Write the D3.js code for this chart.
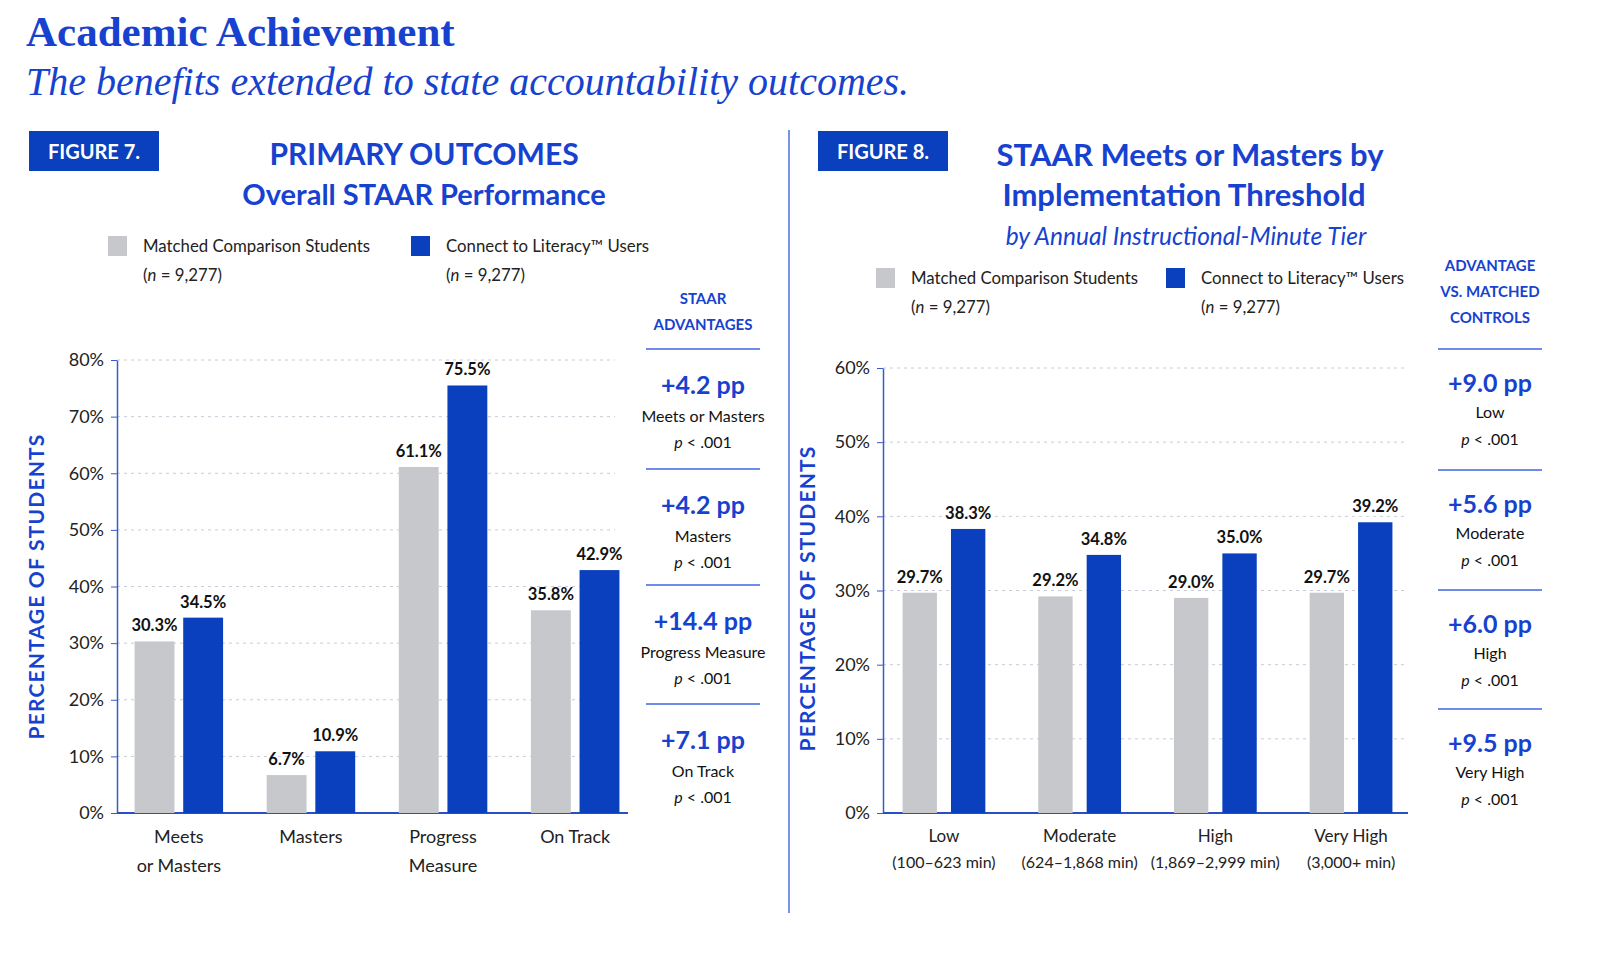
<!DOCTYPE html>
<html>
<head>
<meta charset="utf-8">
<script src="https://cdn.jsdelivr.net/npm/d3@7"></script>
<style>
  body { margin: 0; background: #fff; }
  svg { display: block; }
  text { font-family: Lato, "Open Sans", sans-serif; }
</style>
</head>
<body>
<svg id="chart" width="1608" height="978"></svg>
<script>
// Figure 7 data
var fig7Categories = [["Meets", "or Masters"], ["Masters"], ["Progress", "Measure"], ["On Track"]];
var fig7Comparison = [30.3, 6.7, 61.1, 35.8];
var fig7Users = [34.5, 10.9, 75.5, 42.9];
var fig7Ticks = [0, 10, 20, 30, 40, 50, 60, 70, 80];
var fig7Advantages = ["+4.2 pp", "+4.2 pp", "+14.4 pp", "+7.1 pp"];
var fig7AdvLabels = ["Meets or Masters", "Masters", "Progress Measure", "On Track"];

// Figure 8 data
var fig8Categories = [["Low", "(100–623 min)"], ["Moderate", "(624–1,868 min)"], ["High", "(1,869–2,999 min)"], ["Very High", "(3,000+ min)"]];
var fig8Comparison = [29.7, 29.2, 29.0, 29.7];
var fig8Users = [38.3, 34.8, 35.0, 39.2];
var fig8Ticks = [0, 10, 20, 30, 40, 50, 60];
var fig8Advantages = ["+9.0 pp", "+5.6 pp", "+6.0 pp", "+9.5 pp"];
var fig8AdvLabels = ["Low", "Moderate", "High", "Very High"];

var legendNames = ["Matched Comparison Students", "Connect to Literacy™ Users"];

var BLUE = "#0a40bd";
var TITLE_BLUE = "#1742cf";
var GRAY = "#c6c8cc";

var svg = d3.select("#chart");

// page heading
svg.append("text")
  .attr("x", 26).attr("y", 46)
  .style("font-family", "'Liberation Serif', 'DejaVu Serif', serif")
  .style("font-weight", "bold").style("font-size", "43px")
  .attr("fill", TITLE_BLUE)
  .text("Academic Achievement");
svg.append("text")
  .attr("x", 26).attr("y", 95)
  .style("font-family", "'Liberation Serif', 'DejaVu Serif', serif")
  .style("font-style", "italic").style("font-size", "40px")
  .attr("fill", TITLE_BLUE)
  .text("The benefits extended to state accountability outcomes.");

// vertical divider
svg.append("line")
  .attr("x1", 789).attr("x2", 789).attr("y1", 130).attr("y2", 913)
  .attr("stroke", "#4a6fe0").attr("stroke-width", 1.5);

function badge(x, label) {
  svg.append("rect").attr("x", x).attr("y", 131).attr("width", 130).attr("height", 40)
    .attr("fill", BLUE);
  svg.append("text").attr("x", x + 65).attr("y", 159).attr("text-anchor", "middle")
    .attr("fill", "#fff").style("font-weight", "bold").style("font-size", "20px")
    .text(label);
}

function legend(x0, x1, y) {
  [x0, x1].forEach(function(x, i) {
    svg.append("rect").attr("x", x).attr("y", y).attr("width", 19).attr("height", 20)
      .attr("fill", i == 0 ? GRAY : BLUE);
    svg.append("text").attr("x", x + 35).attr("y", y + 16)
      .style("font-size", "16.8px").attr("fill", "#222").text(legendNames[i]);
    var t = svg.append("text").attr("x", x + 35).attr("y", y + 45)
      .style("font-size", "16.8px").attr("fill", "#222");
    t.append("tspan").text("(");
    t.append("tspan").style("font-style", "italic").text("n");
    t.append("tspan").text(" = 9,277)");
  });
}

// offs = vertical offsets below each rule for the pp value, label and p-value
function sidePanel(cx, x1, x2, header, headerY, lineYs, adv, labels, offs) {
  header.forEach(function(h, i) {
    svg.append("text").attr("x", cx).attr("y", headerY + i * 26).attr("text-anchor", "middle")
      .attr("fill", TITLE_BLUE).style("font-weight", "bold").style("font-size", "15px")
      .text(h);
  });
  lineYs.forEach(function(ly, i) {
    svg.append("line").attr("x1", x1).attr("x2", x2).attr("y1", ly).attr("y2", ly)
      .attr("stroke", "#3d66dc").attr("stroke-width", 1.5);
    svg.append("text").attr("x", cx).attr("y", ly + offs[0]).attr("text-anchor", "middle")
      .attr("fill", TITLE_BLUE).style("font-weight", "bold").style("font-size", "25px")
      .text(adv[i]);
    svg.append("text").attr("x", cx).attr("y", ly + offs[1]).attr("text-anchor", "middle")
      .attr("fill", "#111").style("font-size", "16px").text(labels[i]);
    var p = svg.append("text").attr("x", cx).attr("y", ly + offs[2]).attr("text-anchor", "middle")
      .attr("fill", "#111").style("font-size", "16px");
    p.append("tspan").style("font-style", "italic").text("p");
    p.append("tspan").text(" < .001");
  });
}

function barChart(opt) {
  var y = d3.scaleLinear().domain([0, opt.max]).range([opt.bottom, opt.top]);
  var x = d3.scaleBand().domain(d3.range(opt.cats.length))
    .range([opt.bandLeft, opt.bandRight]).paddingInner(opt.padInner).paddingOuter(opt.padOuter);
  var x1 = d3.scaleBand().domain([0, 1]).range([0, x.bandwidth()]).paddingInner(opt.gap);

  var g = svg.append("g");

  // gridlines
  g.selectAll(".grid").data(opt.ticks.filter(function(d) { return d > 0; })).enter()
    .append("line")
    .attr("x1", opt.left).attr("x2", opt.gridEnd)
    .attr("y1", function(d) { return y(d); }).attr("y2", function(d) { return y(d); })
    .attr("stroke", "#c9ccd8").attr("stroke-dasharray", "3,4");

  // y axis
  var yAxis = g.append("g").attr("transform", "translate(" + opt.left + ",0)")
    .call(d3.axisLeft(y).tickValues(opt.ticks).tickFormat(function(d) { return d + "%"; })
      .tickSize(6).tickSizeOuter(0));
  yAxis.select(".domain").attr("stroke", "#3a5bc7").attr("stroke-width", 1.5);
  yAxis.selectAll(".tick line").attr("stroke", "#3a5bc7");
  yAxis.selectAll(".tick text").attr("x", -13).attr("fill", "#222")
    .style("font-size", "18px").style("font-family", "Lato, sans-serif");

  // baseline
  g.append("line").attr("x1", opt.left).attr("x2", opt.axisEnd)
    .attr("y1", opt.bottom).attr("y2", opt.bottom)
    .attr("stroke", "#2a4fc4").attr("stroke-width", 2);

  var series = [opt.comp, opt.users];
  series.forEach(function(vals, s) {
    g.selectAll(".bar" + s).data(vals).enter().append("rect")
      .attr("x", function(d, i) { return x(i) + x1(s); })
      .attr("width", x1.bandwidth())
      .attr("y", function(d) { return y(d); })
      .attr("height", function(d) { return opt.bottom - y(d); })
      .attr("fill", s == 0 ? GRAY : BLUE);
    g.selectAll(".lbl" + s).data(vals).enter().append("text")
      .attr("x", function(d, i) { return x(i) + x1(s) + x1.bandwidth() / 2; })
      .attr("y", function(d) { return y(d) - 10; })
      .attr("text-anchor", "middle").attr("fill", "#111")
      .style("font-weight", "bold").style("font-size", "16.5px")
      .text(function(d) { return d.toFixed(1) + "%"; });
  });

  // category labels
  opt.cats.forEach(function(lines, i) {
    lines.forEach(function(l, j) {
      g.append("text").attr("x", x(i) + x.bandwidth() / 2)
        .attr("y", opt.bottom + opt.catY + j * opt.catGap)
        .attr("text-anchor", "middle").attr("fill", "#222")
        .style("font-size", j == 0 ? opt.catSize + "px" : opt.catSize2 + "px")
        .text(l);
    });
  });

  // y title
  g.append("text")
    .attr("transform", "translate(" + opt.titleX + "," + ((opt.top + opt.bottom) / 2 + opt.titleShift) + ") rotate(-90)")
    .attr("text-anchor", "middle").attr("fill", TITLE_BLUE)
    .style("font-weight", "bold").style("font-size", "21px").style("letter-spacing", "1.2px")
    .text("PERCENTAGE OF STUDENTS");
}

// ---------- Figure 7 ----------
badge(29, "FIGURE 7.");
svg.append("text").attr("x", 424).attr("y", 165).attr("text-anchor", "middle")
  .attr("fill", TITLE_BLUE).style("font-weight", "bold").style("font-size", "30px")
  .text("PRIMARY OUTCOMES");
svg.append("text").attr("x", 424).attr("y", 205).attr("text-anchor", "middle")
  .attr("fill", TITLE_BLUE).style("font-weight", "bold").style("font-size", "29px")
  .text("Overall STAAR Performance");
legend(108, 411, 236);

barChart({
  cats: fig7Categories, comp: fig7Comparison, users: fig7Users, ticks: fig7Ticks, max: 80,
  left: 117, top: 360, bottom: 813, gridEnd: 615, axisEnd: 628,
  bandLeft: 124, bandRight: 630, padInner: 0.33, padOuter: 0.08, gap: 0.18,
  catY: 30, catGap: 29, catSize: 18, catSize2: 18, titleX: 44, titleShift: 0
});

sidePanel(703, 646, 760, ["STAAR", "ADVANTAGES"], 304, [349, 469, 585, 704],
  fig7Advantages, fig7AdvLabels, [45, 73, 99]);

// ---------- Figure 8 ----------
badge(818, "FIGURE 8.");
svg.append("text").attr("x", 1190).attr("y", 166).attr("text-anchor", "middle")
  .attr("fill", TITLE_BLUE).style("font-weight", "bold").style("font-size", "31px")
  .text("STAAR Meets or Masters by");
svg.append("text").attr("x", 1184).attr("y", 206).attr("text-anchor", "middle")
  .attr("fill", TITLE_BLUE).style("font-weight", "bold").style("font-size", "31px")
  .text("Implementation Threshold");
svg.append("text").attr("x", 1186).attr("y", 245).attr("text-anchor", "middle")
  .attr("fill", TITLE_BLUE).style("font-style", "italic").style("font-size", "24.5px")
  .text("by Annual Instructional-Minute Tier");
legend(876, 1166, 268);

barChart({
  cats: fig8Categories, comp: fig8Comparison, users: fig8Users, ticks: fig8Ticks, max: 60,
  left: 883, top: 368, bottom: 813, gridEnd: 1408, axisEnd: 1408,
  bandLeft: 889, bandRight: 1406, padInner: 0.39, padOuter: 0.1, gap: 0.29,
  catY: 29, catGap: 26, catSize: 17, catSize2: 16, titleX: 815, titleShift: 8
});

sidePanel(1490, 1438, 1542, ["ADVANTAGE", "VS. MATCHED", "CONTROLS"], 271, [349, 470, 590, 709],
  fig8Advantages, fig8AdvLabels, [43, 69, 96]);
</script>
</body>
</html>
